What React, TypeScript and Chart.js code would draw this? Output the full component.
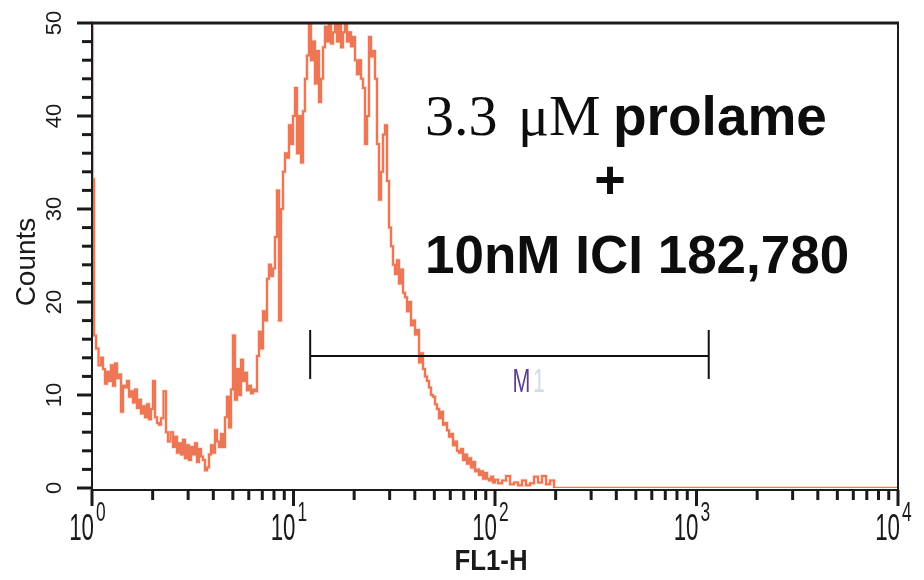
import React, { useEffect, useRef } from "react";
import { Chart, registerables } from "chart.js";

Chart.register(...registerables);

// FL1-H channel values (log axis) and their counts
const fl1Values = [
  1.0, 1.011, 1.035, 1.059, 1.096, 1.121, 1.147, 1.173, 1.2, 1.228,
  1.257, 1.286, 1.316, 1.346, 1.377, 1.409, 1.442, 1.475, 1.509, 1.544,
  1.579, 1.616, 1.653, 1.691, 1.73, 1.77, 1.811, 1.853, 1.896, 1.94,
  1.985, 2.031, 2.078, 2.126, 2.175, 2.225, 2.302, 2.355, 2.41, 2.494,
  2.552, 2.611, 2.671, 2.733, 2.796, 2.861, 2.927, 2.995, 3.064, 3.135,
  3.207, 3.281, 3.357, 3.435, 3.514, 3.595, 3.678, 3.763, 3.85, 3.939,
  4.03, 4.124, 4.219, 4.317, 4.416, 4.518, 4.623, 4.73, 4.839, 4.951,
  5.065, 5.182, 5.302, 5.425, 5.55, 5.678, 5.81, 5.944, 6.081, 6.222,
  6.366, 6.513, 6.663, 6.818, 6.975, 7.137, 7.302, 7.471, 7.643, 7.82,
  8.001, 8.186, 8.375, 8.569, 8.767, 8.97, 9.177, 9.389, 9.606, 9.828,
  10.06, 10.29, 10.53, 10.77, 11.02, 11.27, 11.53, 11.8, 12.07, 12.35,
  12.64, 12.93, 13.23, 13.53, 13.85, 14.17, 14.49, 14.83, 15.17, 15.52,
  15.88, 16.25, 16.62, 17.01, 17.4, 17.8, 18.22, 18.64, 19.07, 19.51,
  19.96, 20.42, 20.9, 21.38, 21.87, 22.38, 22.9, 23.42, 23.97, 24.52,
  25.09, 25.67, 26.26, 26.87, 27.49, 28.12, 28.77, 29.44, 30.12, 30.81,
  31.53, 32.26, 33.0, 33.77, 34.55, 35.35, 36.16, 37.0, 37.86, 38.73,
  39.63, 40.54, 41.48, 42.44, 43.42, 44.43, 45.45, 46.51, 47.58, 48.68,
  49.81, 50.96, 52.14, 53.35, 54.58, 55.84, 57.14, 58.46, 59.81, 61.19,
  62.61, 64.06, 65.54, 67.06, 68.61, 70.19, 71.82, 73.48, 75.18, 76.92,
  78.7, 80.52, 82.38, 84.29, 86.24, 88.23, 90.27, 92.36, 94.5, 96.69,
  98.92, 101.2, 105.9, 110.9, 116.1, 121.5, 127.2, 133.1, 139.3, 145.8,
  152.6, 159.8, 167.2, 175.0, 183.2, 191.8, 200.7, 210.1, 10000,
];

const counts = [
  52, 33.2, 16.4, 15.0, 13.2, 14.0, 12.8, 11.2, 12.5, 11.5,
  13.2, 11.0, 13.4, 11.8, 12.2, 8.2, 11.0, 10.8, 11.5, 9.8,
  10.4, 9.2, 10.6, 8.6, 9.5, 8.0, 8.8, 7.6, 9.0, 7.4,
  8.5, 11.5, 7.6, 7.0, 6.8, 7.5, 10.4, 6.0, 5.0, 6.0,
  4.4, 5.5, 3.8, 4.8, 3.6, 5.2, 3.2, 4.6, 3.0, 4.4,
  3.6, 4.8, 2.8, 4.2, 3.4, 3.0, 1.9, 2.2, 3.6, 4.6,
  3.8, 6.2, 5.0, 4.4, 5.8, 4.4, 7.6, 9.8, 6.5, 10.6,
  16.4, 9.5, 12.8, 10.0, 13.8, 11.5, 12.4, 10.5, 11.0, 10.2,
  10.6, 10.4, 14.2, 16.8, 15.0, 19.0, 18.0, 22.5, 24.0, 22.8,
  23.6, 27.0, 32.0, 18.0, 30.0, 34.0, 36.0, 35.5, 39.0, 37.0,
  40.0, 43.0, 36.0, 40.0, 35.0, 40.5, 44.0, 46.5, 51, 46.0,
  48.0, 43.5, 47.0, 41.5, 44.0, 47.4, 49.6, 48.0, 51, 47.8,
  49.0, 51, 48.0, 51, 47.4, 49.0, 51, 48.0, 49.0, 47.5,
  48.5, 46.0, 44.5, 46.0, 44.0, 43.0, 37.0, 40.0, 48.5, 46.4,
  47.0, 44.0, 37.0, 31.0, 34.0, 38.0, 39.0, 33.0, 28.0, 26.0,
  24.0, 23.0, 24.5, 22.0, 23.5, 21.0, 20.5, 19.0, 20.0, 17.5,
  18.0, 16.5, 17.0, 13.5, 14.5, 12.8, 12.0, 11.5, 10.8, 10.0,
  9.8, 9.0, 8.5, 7.5, 8.2, 6.8, 7.0, 6.2, 5.5, 5.8,
  4.6, 5.0, 4.0, 3.8, 4.2, 3.0, 3.6, 2.6, 3.2, 2.2,
  2.8, 1.8, 2.0, 1.4, 1.8, 1.0, 1.6, 1.0, 0.8, 1.2,
  0.6, 0.9, 0.5, 0.8, 1.3, 0.4, 0.6, 0.3, 0.8, 0.3,
  0.5, 1.2, 0.6, 1.3, 0.4, 0.8, 0, 0, 0,
];

// Axis ticks and labels
const xDecades = [1, 10, 100, 1000, 10000];
const xExponents = ["0", "1", "2", "3", "4"];
const yMajorTicks = [0, 10, 20, 30, 40, 50];
const yTickLabels = ["0", "10", "20", "30", "40", "50"];
const yMinorTicks = [2, 4, 6, 8, 12, 14, 16, 18, 22, 24, 26, 28, 32, 34, 36, 38, 42, 44, 46, 48];
const xMinorMultipliers = [2, 3, 4, 5, 6, 7, 8, 9];
const xTitle = "FL1-H";
const yTitle = "Counts";

// Marker gate M1
const gateStart = 12.1;
const gateEnd = 1150;
const gateLevel = 14.2;
const gateName = ["M", "1"];

// Annotation text
const annoSerifParts = ["3.3", "\u03bcM"];
const annoBoldPart = "prolame";
const annoPlus = "+";
const annoLine2 = "10nM ICI 182,780";

const overlayPlugin = {
  id: "facsOverlay",
  afterDraw(chart: any) {
    const ctx: CanvasRenderingContext2D = chart.ctx;
    const xs = chart.scales.x;
    const ys = chart.scales.y;
    const { left, right, top, bottom } = chart.chartArea;
    const axisY = bottom + 2;
    ctx.save();

    // Frame
    ctx.strokeStyle = "#1c1c1c";
    ctx.lineWidth = 2;
    ctx.beginPath();
    ctx.moveTo(left, top);
    ctx.lineTo(left, axisY);
    ctx.lineTo(right, axisY);
    ctx.lineTo(right, top);
    ctx.stroke();
    ctx.lineWidth = 3;
    ctx.beginPath();
    ctx.moveTo(left - 1, top);
    ctx.lineTo(right + 1, top);
    ctx.stroke();

    // Y ticks
    ctx.lineWidth = 3;
    ctx.strokeStyle = "#1a1a1a";
    yMajorTicks.forEach((v) => {
      const y = ys.getPixelForValue(v);
      ctx.beginPath();
      ctx.moveTo(left - 15, y);
      ctx.lineTo(left, y);
      ctx.stroke();
    });
    yMinorTicks.forEach((v) => {
      const y = ys.getPixelForValue(v);
      ctx.beginPath();
      ctx.moveTo(left - 10, y);
      ctx.lineTo(left, y);
      ctx.stroke();
    });

    // X ticks
    xDecades.forEach((d, i) => {
      const x = xs.getPixelForValue(d);
      ctx.beginPath();
      ctx.moveTo(x, axisY);
      ctx.lineTo(x, axisY + 16);
      ctx.stroke();
      if (i < xDecades.length - 1) {
        xMinorMultipliers.forEach((m) => {
          const xm = xs.getPixelForValue(d * m);
          ctx.beginPath();
          ctx.moveTo(xm, axisY);
          ctx.lineTo(xm, axisY + 10);
          ctx.stroke();
        });
      }
    });

    // Y tick labels (rotated)
    ctx.fillStyle = "#1a1a1a";
    ctx.font = '22px "Liberation Sans", Arial, sans-serif';
    ctx.textAlign = "center";
    ctx.textBaseline = "alphabetic";
    yMajorTicks.forEach((v, i) => {
      const y = ys.getPixelForValue(v);
      ctx.save();
      ctx.translate(left - 31, y);
      ctx.rotate(-Math.PI / 2);
      ctx.fillText(yTickLabels[i], 0, 0);
      ctx.restore();
    });

    // Y title
    ctx.save();
    ctx.font = '28px "Liberation Sans", Arial, sans-serif';
    ctx.translate(35, 262);
    ctx.rotate(-Math.PI / 2);
    ctx.fillText(yTitle, 0, 0);
    ctx.restore();

    // X tick labels 10^n (condensed)
    xDecades.forEach((d, i) => {
      const x = xs.getPixelForValue(d);
      ctx.save();
      ctx.translate(x + 2, 540);
      ctx.scale(0.62, 1);
      ctx.font = '36px "Liberation Sans", Arial, sans-serif';
      ctx.textAlign = "right";
      ctx.fillText("10", 0, 0);
      ctx.restore();
      ctx.save();
      ctx.translate(x + 4, 521);
      ctx.scale(0.62, 1);
      ctx.font = '28px "Liberation Sans", Arial, sans-serif';
      ctx.textAlign = "left";
      ctx.fillText(xExponents[i], 0, 0);
      ctx.restore();
    });

    // X title
    ctx.save();
    ctx.translate(491, 570);
    ctx.scale(0.86, 1);
    ctx.font = 'bold 30px "Liberation Sans", Arial, sans-serif';
    ctx.textAlign = "center";
    ctx.fillText(xTitle, 0, 0);
    ctx.restore();

    // Gate M1
    const gx1 = xs.getPixelForValue(gateStart);
    const gx2 = xs.getPixelForValue(gateEnd);
    const gy = ys.getPixelForValue(gateLevel);
    ctx.strokeStyle = "#111";
    ctx.lineWidth = 2;
    ctx.beginPath();
    ctx.moveTo(gx1, gy);
    ctx.lineTo(gx2, gy);
    ctx.moveTo(gx1, gy - 26);
    ctx.lineTo(gx1, gy + 23);
    ctx.moveTo(gx2, gy - 26);
    ctx.lineTo(gx2, gy + 23);
    ctx.stroke();

    const gMid = (gx1 + gx2) / 2;
    ctx.save();
    ctx.translate(gMid + 3, gy + 36);
    ctx.scale(0.65, 1);
    ctx.font = '33px "Liberation Sans", Arial, sans-serif';
    ctx.textAlign = "left";
    ctx.fillStyle = "#5b3f92";
    ctx.fillText(gateName[0], 0, 0);
    const mw = ctx.measureText(gateName[0]).width;
    ctx.fillStyle = "#cfdde6";
    ctx.fillText(gateName[1], mw + 4, 0);
    ctx.restore();

    // Annotation
    ctx.fillStyle = "#0d0d0d";
    ctx.textAlign = "left";
    ctx.font = '58px "Liberation Serif", "Times New Roman", serif';
    ctx.fillText(annoSerifParts[0], 425, 135);
    ctx.fillText(annoSerifParts[1], 518, 135);
    ctx.font = 'bold 55px "Liberation Sans", Arial, sans-serif';
    ctx.fillText(annoBoldPart, 613, 135);
    ctx.textAlign = "center";
    ctx.font = 'bold 54px "Liberation Sans", Arial, sans-serif';
    ctx.fillText(annoPlus, 610, 198);
    ctx.textAlign = "left";
    ctx.font = 'bold 53px "Liberation Sans", Arial, sans-serif';
    ctx.fillText(annoLine2, 425, 273);

    ctx.restore();
  },
};

export default function App() {
  const canvasRef = useRef<HTMLCanvasElement | null>(null);

  useEffect(() => {
    const canvas = canvasRef.current;
    if (!canvas) return;
    const points = fl1Values.map((x, i) => ({ x, y: counts[i] }));
    const chart = new Chart(canvas, {
      type: "line",
      data: {
        datasets: [
          {
            data: points,
            borderColor: "rgba(245, 160, 135, 0.45)",
            borderWidth: 3.5,
            pointRadius: 0,
            stepped: "middle",
            fill: false,
          },
          {
            data: points,
            borderColor: "#e8572a",
            borderWidth: 2,
            pointRadius: 0,
            stepped: "middle",
            fill: false,
          },
        ],
      },
      options: {
        responsive: false,
        animation: false,
        devicePixelRatio: 1,
        layout: { padding: { left: 92, right: 26, top: 23, bottom: 92 } },
        plugins: {
          legend: { display: false },
          tooltip: { enabled: false },
        },
        scales: {
          x: { type: "logarithmic", min: 1, max: 10000, display: false },
          y: { type: "linear", min: 0, max: 50, display: false },
        },
      },
      plugins: [overlayPlugin],
    });
    return () => chart.destroy();
  }, []);

  return (
    <div style={{ position: "fixed", left: 0, top: 0, width: 924, height: 580, background: "#fff" }}>
      <canvas ref={canvasRef} width={924} height={580} style={{ display: "block" }} />
    </div>
  );
}
